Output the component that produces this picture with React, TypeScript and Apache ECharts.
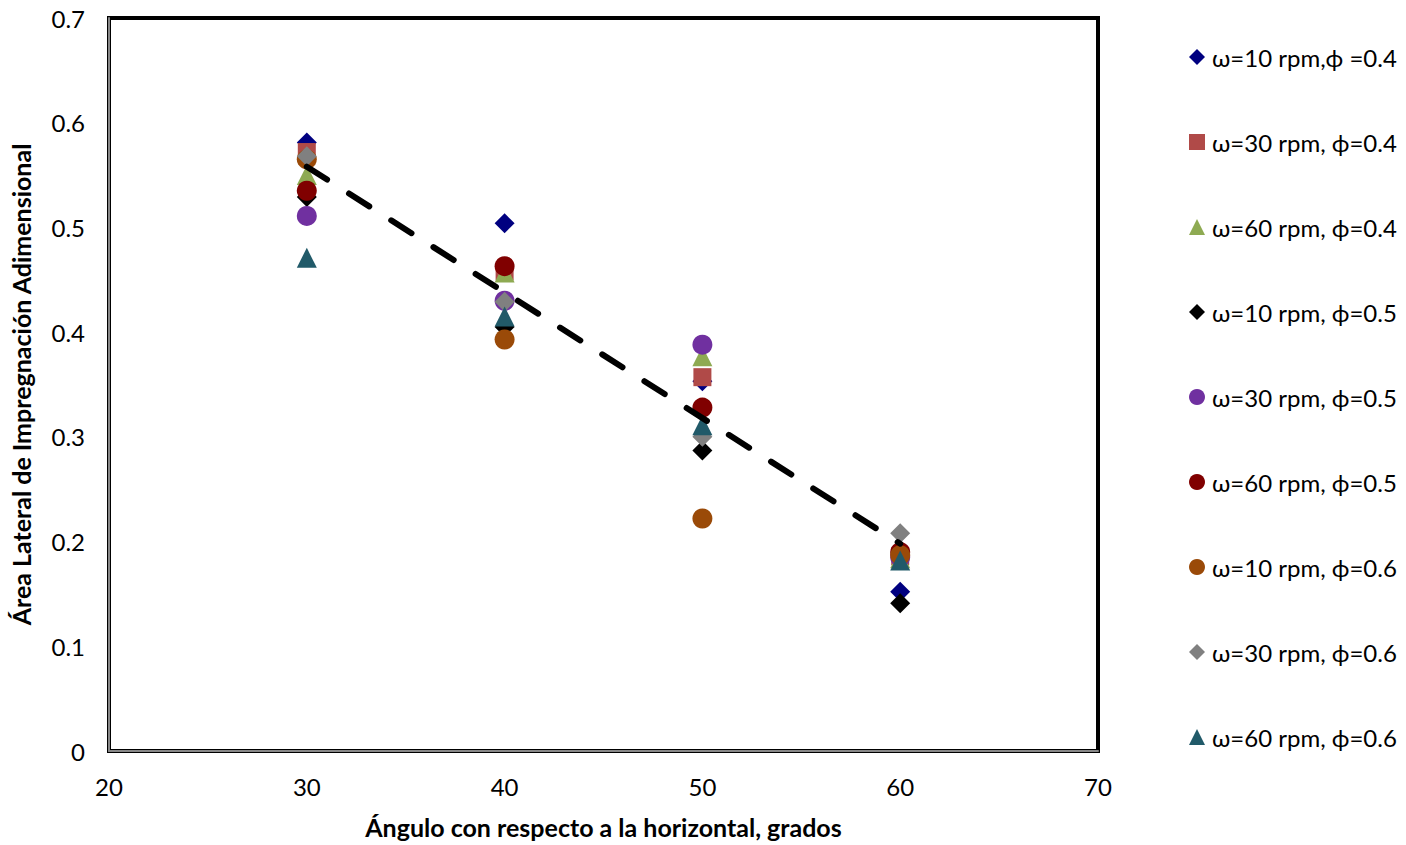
import React, { useEffect, useRef } from "react";
import * as echarts from "echarts";

const angles = [30, 40, 50, 60];
const seriesNames = [
  "ω=10 rpm,ϕ =0.4",
  "ω=30 rpm, ϕ=0.4",
  "ω=60 rpm, ϕ=0.4",
  "ω=10 rpm, ϕ=0.5",
  "ω=30 rpm, ϕ=0.5",
  "ω=60 rpm, ϕ=0.5",
  "ω=10 rpm, ϕ=0.6",
  "ω=30 rpm, ϕ=0.6",
  "ω=60 rpm, ϕ=0.6",
];
const w10p04 = [0.581, 0.504, 0.353, 0.152];
const w30p04 = [0.572, 0.458, 0.357, 0.186];
const w60p04 = [0.55, 0.457, 0.377, 0.184];
const w10p05 = [0.529, 0.405, 0.287, 0.141];
const w30p05 = [0.511, 0.43, 0.388, 0.185];
const w60p05 = [0.535, 0.463, 0.328, 0.19];
const w10p06 = [0.565, 0.393, 0.222, 0.187];
const w30p06 = [0.568, 0.429, 0.3, 0.208];
const w60p06 = [0.471, 0.415, 0.311, 0.182];
const trendX = [30, 60];
const trendY = [0.558, 0.198];
const yTicks = [0, 0.1, 0.2, 0.3, 0.4, 0.5, 0.6, 0.7];

const seriesValues = [w10p04, w30p04, w60p04, w10p05, w30p05, w60p05, w10p06, w30p06, w60p06];
const seriesColors = ["#000080", "#B04A48", "#8EAA52", "#000000", "#7030A0", "#800000", "#9A4A08", "#808080", "#215A69"];
const seriesSymbols = ["diamond", "rect", "triangle", "diamond", "circle", "circle", "circle", "diamond", "triangle"];
const symbolSizes = [20, 18, 20, 20, 20, 20, 20, 20, 20];

const FONT = "Lato, 'Open Sans', sans-serif";

export default function App() {
  const ref = useRef<HTMLDivElement>(null);
  useEffect(() => {
    if (!ref.current) return;
    const chart = echarts.init(ref.current, undefined, { renderer: "svg" });
    const scatter = seriesNames.map((name, i) => ({
      name,
      type: "scatter",
      symbol: seriesSymbols[i],
      symbolSize: symbolSizes[i],
      itemStyle: { color: seriesColors[i], opacity: 1 },
      data: angles.map((a, j) => [a, seriesValues[i][j]]),
      z: 2 + i,
    }));
    chart.setOption({
      animation: false,
      textStyle: { fontFamily: FONT },
      grid: {
        left: 109,
        right: 308,
        top: 18,
        bottom: 94,
        show: true,
        borderColor: "#000",
        borderWidth: 4,
        backgroundColor: "#fff",
      },
      xAxis: {
        type: "value",
        min: 20,
        max: 70,
        interval: 10,
        name: "Ángulo con respecto a la horizontal, grados",
        nameLocation: "middle",
        nameGap: 63,
        nameTextStyle: { fontFamily: FONT, fontSize: 25, fontWeight: "bold", color: "#000" },
        axisLine: { show: true, lineStyle: { color: "#888", width: 2 } },
        axisTick: { show: false },
        axisLabel: { fontFamily: FONT, fontSize: 24, color: "#000", margin: 23 },
        splitLine: { show: false },
      },
      yAxis: {
        type: "value",
        min: 0,
        max: 0.7,
        interval: 0.1,
        name: "Área Lateral de Impregnación Adimensional",
        nameLocation: "middle",
        nameGap: 76,
        nameRotate: 90,
        nameTextStyle: { fontFamily: FONT, fontSize: 25, fontWeight: "bold", color: "#000" },
        axisLine: { show: true, lineStyle: { color: "#888", width: 2 } },
        axisTick: { show: false },
        axisLabel: {
          fontFamily: FONT,
          fontSize: 24,
          color: "#000",
          margin: 24,
          formatter: (v: number) => {
            const t = yTicks.find((k) => Math.abs(k - v) < 1e-9);
            return t === undefined ? "" : String(t);
          },
        },
        splitLine: { show: false },
      },
      legend: {
        orient: "vertical",
        left: 1184,
        top: 39,
        itemWidth: 16,
        itemHeight: 16,
        itemGap: 59,
        data: seriesNames,
        textStyle: { fontFamily: FONT, fontSize: 24, color: "#000", lineHeight: 26, padding: [0, 0, 0, 2] },
      },
      series: [
        ...scatter,
        {
          name: "trend",
          type: "line",
          data: trendX.map((x, i) => [x, trendY[i]]),
          symbol: "none",
          lineStyle: { color: "#000", width: 6, type: [24, 26], cap: "round" },
          z: 20,
        },
      ],
    });
    return () => chart.dispose();
  }, []);
  return (
    <div
      ref={ref}
      style={{ position: "fixed", left: 0, top: 0, width: 1406, height: 845, background: "#fff" }}
    />
  );
}
